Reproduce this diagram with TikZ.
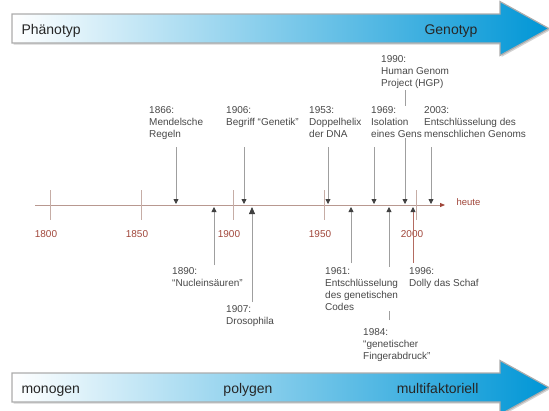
\documentclass[tikz,border=0pt]{standalone}
\usepackage{fontspec}
\setmainfont{Liberation Sans}
\usepackage{xcolor}
\usetikzlibrary{arrows.meta,shadows}
\definecolor{axisred}{HTML}{A0463A}
\definecolor{axisline}{HTML}{B89890}
\definecolor{banblue}{HTML}{0096D6}
\definecolor{txtgray}{HTML}{484848}

\begin{document}
\begin{tikzpicture}[x=1pt,y=-1pt,
  event/.style={anchor=north west,align=left,inner sep=0pt,fill=white,text=txtgray,
    font=\fontsize{10}{12.2}\selectfont},
  year/.style={text=axisred,font=\fontsize{10}{12}\selectfont},
  pin/.style={draw=gray!75,line width=0.8pt,-{Triangle[length=5pt,width=5pt,color=black!75]}},
  tick/.style={draw=axisline!80,line width=0.8pt},
  banner/.style={left color=white,right color=banblue,draw=gray!65,line width=1.2pt,
    drop shadow={shadow xshift=1.5pt,shadow yshift=-1.5pt,opacity=0.35}},
  bantext/.style={anchor=base west,text=black!85,font=\fontsize{14}{16}\selectfont}]

\useasboundingbox (0,0) rectangle (549,410);

% banners
\draw[banner] (12,14)--(500,14)--(500,1.5)--(549,28.5)--(500,55.5)--(500,43)--(12,43)--cycle;
\node[bantext] (pheno) at (18,34) {Phänotyp};
\node[bantext,anchor=base east] (geno) at (481,34) {Genotyp};

\draw[banner] (12,373)--(500,373)--(500,360.5)--(549,387.5)--(500,414.5)--(500,402)--(12,402)--cycle;
\node[bantext] (mono) at (18,393) {monogen};
\node[bantext,anchor=base] (poly) at (248,393) {polygen};
\node[bantext,anchor=base east] (multi) at (482,393) {multifaktoriell};

% time axis
\coordinate (ax0) at (35,205);
\coordinate (ax1) at (445,205);
\draw[draw=axisline,line width=0.8pt,-{Triangle[length=5pt,width=4pt,color=axisred]}] (ax0)--(ax1);
\node[year,anchor=west,font=\fontsize{9.5}{12}\selectfont] (heute) at (453,202) {heute};

\foreach \yr/\x in {1800/50,1850/141,1900/233,1950/324,2000/416}{
  \draw[tick] (\x,190)--(\x,220);
  \node[year] (y\yr) at (\x-4,234) {\yr};
}

% events above the axis
\foreach \yr/\x/\ys in {1866/176/147,1906/244/147,1953/328/147,1969/374/147,1990/405/90,2003/431/147}{
  \coordinate (s\yr) at (\x,\ys);
  \coordinate (a\yr) at (\x,204);
  \draw[pin] (s\yr)--(a\yr);
}

% events below the axis
\foreach \yr/\x/\ys in {1890/214/265,1961/351/263,1984/389/320}{
  \coordinate (s\yr) at (\x,\ys);
  \coordinate (a\yr) at (\x,207);
  \draw[pin] (s\yr)--(a\yr);
}
\coordinate (s1907) at (252,302);
\coordinate (a1907) at (252,207);
\draw[pin,-{Triangle[length=7pt,width=6pt,color=black!75]}] (s1907)--(a1907);
\coordinate (s1996) at (413,263);
\coordinate (a1996) at (413,207);
\draw[pin,draw=axisred!80] (s1996)--(a1996);

\node[event] (e1866) at (149,106) {1866:\\Mendelsche\\Regeln};
\node[event] (e1906) at (226,106) {1906:\\Begriff “Genetik”};
\node[event] (e1953) at (309,106) {1953:\\Doppelhelix\\der DNA};
\node[event] (e1969) at (371,106) {1969:\\Isolation\\eines Gens};
\node[event] (e1990) at (381,55) {1990:\\Human Genom\\Project (HGP)};
\node[event] (e2003) at (424,106) {2003:\\Entschlüsselung des\\menschlichen Genoms};

\node[event] (e1890) at (172,267) {1890:\\“Nucleinsäuren”};
\node[event] (e1907) at (226,305) {1907:\\Drosophila};
\node[event] (e1961) at (325,267) {1961:\\Entschlüsselung\\des genetischen\\Codes};
\node[event] (e1984) at (363,328) {1984:\\“genetischer\\Fingerabdruck”};
\node[event] (e1996) at (409,267) {1996:\\Dolly das Schaf};

\end{tikzpicture}
\end{document}
